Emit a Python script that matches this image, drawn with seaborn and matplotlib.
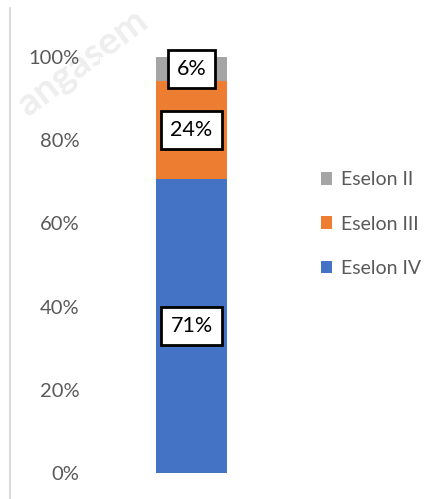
import matplotlib
matplotlib.use("Agg")
import matplotlib.pyplot as plt
import seaborn as sns
import pandas as pd
from matplotlib.lines import Line2D
from matplotlib.patches import Patch

categories = ["Eselon IV", "Eselon III", "Eselon II"]
values = [70.6, 23.6, 5.8]
labels = ["71%", "24%", "6%"]
colors = ["#4472C4", "#ED7D31", "#A5A5A5"]
yticks = [0, 20, 40, 60, 80, 100]
ytick_labels = ["0%", "20%", "40%", "60%", "80%", "100%"]

sns.set_theme(style="white")
plt.rcParams['font.family'] = ['Lato', 'DejaVu Sans']

fig = plt.figure(figsize=(4.48, 4.99), dpi=100)
ax = fig.add_axes([100/448, 26/499, 183/448, 416/499])

bottom = 0.0
for cat, val, lab, col in zip(categories, values, labels, colors):
    df = pd.DataFrame({"x": ["total"], "y": [val]})
    sns.barplot(data=df, x="x", y="y", color=col, bottom=bottom, width=71/183,
                ax=ax, saturation=1, linewidth=0)
    ax.text(0, bottom + val/2, lab, ha="center", va="center", fontsize=15.5,
            color="black",
            bbox=dict(boxstyle="square,pad=0.42", fc="white", ec="black", lw=2))
    bottom += val

ax.set_xlim(-0.5, 0.5)
ax.set_ylim(0, 100)
ax.set_yticks(yticks)
ax.set_yticklabels(ytick_labels, fontsize=14.5, color="#595959")
ax.set_xticks([])
ax.set_xlabel("")
ax.set_ylabel("")
ax.tick_params(axis="y", length=0, pad=15)
for s in ax.spines.values():
    s.set_visible(False)

handles = [Patch(facecolor=c, edgecolor="none") for c in colors[::-1]]
leg = fig.legend(handles, categories[::-1], loc="center left",
                 bbox_to_anchor=(303/448, 1 - 224/499), frameon=False,
                 fontsize=14, labelspacing=1.4, handlelength=0.6,
                 handleheight=0.6, handletextpad=0.45)
for t in leg.get_texts():
    t.set_color("#595959")

# left border line
fig.add_artist(Line2D([10/448, 10/448], [0, 1 - 8/499], color="#D9D9D9", lw=1.5))
# faint watermark
fig.text(82/448, 1 - 62/499, "angasem", fontsize=28, color="#EEEEEE",
         rotation=37, ha="center", va="center", fontweight="bold", zorder=-1)

fig.savefig("out.png", dpi=100)
